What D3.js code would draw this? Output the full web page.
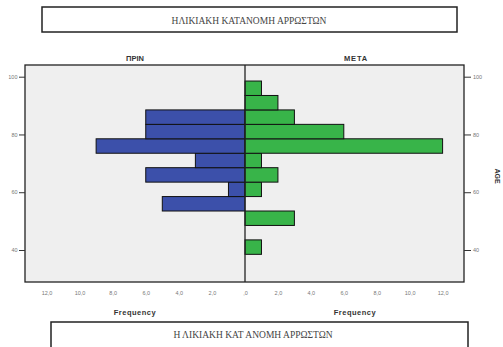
<!DOCTYPE html>
<html>
<head>
<meta charset="utf-8">
<script src="https://cdn.jsdelivr.net/npm/d3@7"></script>
<style>
  body { margin: 0; background: #fff; }
  svg { display: block; }
</style>
</head>
<body>
<div id="chart"></div>
<script>
// age bins (5 years), centre of each bin
const binCentres = [41, 46, 51, 56, 61, 66, 71, 76, 81, 86, 91, 96];
const binWidth = 5;
// ΠΡΙΝ (before) counts per bin
const before = [0, 0, 0, 5, 1, 6, 3, 9, 6, 6, 0, 0];
// ΜΕΤΑ (after) counts per bin
const after = [1, 0, 3, 0, 1, 2, 1, 12, 6, 3, 2, 1];
const freqTicks = [0, 2, 4, 6, 8, 10, 12];
const ageTicks = [40, 60, 80, 100];

const W = 503, H = 347;
const svg = d3.select("#chart").append("svg")
    .attr("width", W)
    .attr("height", H);

const plot = { left: 25, right: 464, top: 65, bottom: 282, mid: 245 };

const y = d3.scaleLinear().domain([40, 100]).range([250, 76.7]);
const xL = d3.scaleLinear().domain([0, 13.3]).range([plot.mid, plot.left]);
const xR = d3.scaleLinear().domain([0, 13.3]).range([plot.mid, plot.right]);

const fmt = d => d === 0 ? ",0" : d.toFixed(1).replace(".", ",");

// background of plot
svg.append("rect")
    .attr("x", plot.left).attr("y", plot.top)
    .attr("width", plot.right - plot.left)
    .attr("height", plot.bottom - plot.top)
    .attr("fill", "#efefef");

// title box top
svg.append("rect")
    .attr("x", 42).attr("y", 7).attr("width", 415).attr("height", 25)
    .attr("fill", "#fff").attr("stroke", "#222").attr("stroke-width", 1.5);
svg.append("text")
    .attr("x", 249).attr("y", 23.5)
    .attr("text-anchor", "middle")
    .attr("font-family", "Liberation Serif, serif")
    .attr("font-size", "9.5px")
    .attr("fill", "#444")
    .text("ΗΛΙΚΙΑΚΗ ΚΑΤΑΝΟΜΗ ΑΡΡΩΣΤΩΝ");

// panel titles
svg.append("text")
    .attr("x", 135).attr("y", 60.5)
    .attr("text-anchor", "middle")
    .attr("font-family", "Liberation Sans, Arial, sans-serif")
    .attr("font-size", "7.5px").attr("font-weight", "bold")
    .attr("fill", "#333")
    .text("ΠΡΙΝ");
svg.append("text")
    .attr("x", 356).attr("y", 60.5)
    .attr("text-anchor", "middle")
    .attr("font-family", "Liberation Sans, Arial, sans-serif")
    .attr("font-size", "7.5px").attr("font-weight", "bold")
    .attr("letter-spacing", "0.8px")
    .attr("fill", "#333")
    .text("ΜΕΤΑ");

// bars
const bins = binCentres.map((c, i) => ({ c, before: before[i], after: after[i] }));

svg.selectAll(".bar-before")
    .data(bins.filter(d => d.before > 0))
    .join("rect")
    .attr("class", "bar-before")
    .attr("x", d => xL(d.before))
    .attr("y", d => y(d.c + binWidth / 2))
    .attr("width", d => xL(0) - xL(d.before))
    .attr("height", d => y(d.c - binWidth / 2) - y(d.c + binWidth / 2))
    .attr("fill", "#3c50aa")
    .attr("stroke", "#111")
    .attr("stroke-width", 1);

svg.selectAll(".bar-after")
    .data(bins.filter(d => d.after > 0))
    .join("rect")
    .attr("class", "bar-after")
    .attr("x", xR(0))
    .attr("y", d => y(d.c + binWidth / 2))
    .attr("width", d => xR(d.after) - xR(0))
    .attr("height", d => y(d.c - binWidth / 2) - y(d.c + binWidth / 2))
    .attr("fill", "#38b449")
    .attr("stroke", "#111")
    .attr("stroke-width", 1);

// frame and middle line
svg.append("rect")
    .attr("x", plot.left).attr("y", plot.top)
    .attr("width", plot.right - plot.left)
    .attr("height", plot.bottom - plot.top)
    .attr("fill", "none").attr("stroke", "#222").attr("stroke-width", 1.3);
svg.append("line")
    .attr("x1", plot.mid).attr("x2", plot.mid)
    .attr("y1", plot.top).attr("y2", plot.bottom)
    .attr("stroke", "#222").attr("stroke-width", 1.3);

// y axes (left labels clipped at the page edge like the original)
svg.append("defs").append("clipPath").attr("id", "leftclip")
    .append("rect").attr("x", 8.5 - plot.left).attr("y", 0).attr("width", 30).attr("height", H);

function styleAxis(g) {
    g.select(".domain").remove();
    g.selectAll("line").attr("stroke", "#333").attr("stroke-width", 1);
    g.selectAll("text")
        .attr("font-family", "Liberation Sans, Arial, sans-serif")
        .attr("font-size", "5.5px")
        .attr("fill", "#777");
}

svg.append("g")
    .attr("transform", `translate(${plot.left},0)`)
    .attr("clip-path", "url(#leftclip)")
    .call(d3.axisLeft(y).tickValues(ageTicks).tickSize(6).tickPadding(1.5))
    .call(styleAxis);

svg.append("g")
    .attr("transform", `translate(${plot.right},0)`)
    .call(d3.axisRight(y).tickValues(ageTicks).tickSize(7).tickPadding(2))
    .call(styleAxis);

// x axes
svg.append("g")
    .attr("transform", `translate(0,${plot.bottom + 6})`)
    .call(d3.axisBottom(xL).tickValues(freqTicks).tickFormat(fmt).tickSize(0))
    .call(styleAxis);
svg.append("g")
    .attr("transform", `translate(0,${plot.bottom + 6})`)
    .call(d3.axisBottom(xR).tickValues(freqTicks.filter(d => d > 0)).tickFormat(fmt).tickSize(0))
    .call(styleAxis);

// axis titles
[135, 355].forEach(cx => {
    svg.append("text")
        .attr("x", cx).attr("y", 315)
        .attr("text-anchor", "middle")
        .attr("font-family", "Liberation Sans, Arial, sans-serif")
        .attr("font-size", "7.5px").attr("font-weight", "bold")
        .attr("letter-spacing", "0.5px")
        .attr("fill", "#333")
        .text("Frequency");
});

svg.append("text")
    .attr("transform", "translate(495,176) rotate(90)")
    .attr("text-anchor", "middle")
    .attr("font-family", "Liberation Sans, Arial, sans-serif")
    .attr("font-size", "7px").attr("font-weight", "bold")
    .attr("fill", "#333")
    .text("AGE");

// bottom title box
svg.append("rect")
    .attr("x", 51).attr("y", 322).attr("width", 417).attr("height", 40)
    .attr("fill", "#fff").attr("stroke", "#222").attr("stroke-width", 1.5);
svg.append("text")
    .attr("x", 253).attr("y", 338)
    .attr("text-anchor", "middle")
    .attr("font-family", "Liberation Serif, serif")
    .attr("font-size", "9.5px")
    .attr("fill", "#444")
    .text("Η ΛΙΚΙΑΚΗ ΚΑΤ ΑΝΟΜΗ ΑΡΡΩΣΤΩΝ");
</script>
</body>
</html>
